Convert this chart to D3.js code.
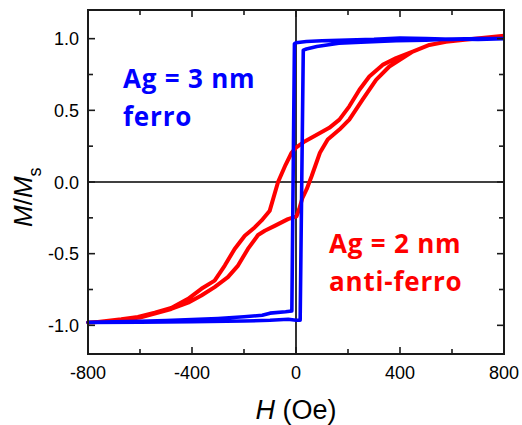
<!DOCTYPE html>
<html>
<head>
<meta charset="utf-8">
<script src="https://cdn.jsdelivr.net/npm/d3@7"></script>
<style>
  body { margin: 0; background: #fff; }
  svg { display: block; }
  .tick-label { font-family: "Liberation Sans", Arial, sans-serif; font-size: 18px; fill: #000; }
  .note { font-family: "Open Sans", sans-serif; font-weight: bold; font-size: 26px; letter-spacing: 0.8px; }
</style>
</head>
<body>
<svg id="chart" width="522" height="425"></svg>
<script>
  // Ag = 3 nm (ferro), descending then ascending branch
  const ferroDownH = [800, 700, 600, 500, 400, 300, 200, 100, 40, 0, -6, -16, -40, -100, -130, -200, -300, -400, -500, -600, -800];
  const ferroDownM = [1.0, 1.0, 0.995, 1.0, 1.005, 0.995, 0.99, 0.985, 0.98, 0.972, 0.965, -0.9, -0.905, -0.915, -0.93, -0.94, -0.952, -0.96, -0.967, -0.972, -0.978];
  const ferroUpH = [-800, -600, -400, -200, -100, -30, 0, 16, 28, 40, 80, 165, 250, 385, 500, 600, 700, 800];
  const ferroUpM = [-0.98, -0.978, -0.975, -0.97, -0.965, -0.958, -0.965, -0.965, 0.92, 0.928, 0.945, 0.968, 0.975, 0.986, 0.99, 0.998, 0.995, 1.0];

  // Ag = 2 nm (anti-ferro)
  const afDownH = [800, 667, 577, 513, 449, 385, 333, 282, 244, 205, 167, 128, 80, 35, 0, -17, -40, -69, -101, -133, -159, -197, -236, -274, -313, -364, -415, -480, -543, -608, -672, -762, -800];
  const afDownM = [1.02, 0.996, 0.979, 0.956, 0.91, 0.864, 0.817, 0.736, 0.644, 0.528, 0.435, 0.378, 0.33, 0.285, 0.24, 0.204, 0.12, 0.0, -0.2, -0.27, -0.317, -0.375, -0.467, -0.583, -0.688, -0.745, -0.815, -0.879, -0.912, -0.942, -0.958, -0.976, -0.98];
  const afUpH = [-800, -700, -600, -480, -415, -364, -313, -262, -223, -185, -146, -120, -82, -31, 2, 12, 25, 41, 60, 92, 122, 167, 205, 256, 308, 359, 410, 449, 513, 577, 667, 800];
  const afUpM = [-0.98, -0.97, -0.945, -0.886, -0.842, -0.792, -0.733, -0.664, -0.583, -0.467, -0.37, -0.34, -0.306, -0.259, -0.24, -0.19, -0.11, -0.05, 0.04, 0.204, 0.297, 0.366, 0.435, 0.574, 0.713, 0.806, 0.864, 0.91, 0.956, 0.979, 0.996, 1.02];

  const xTicks = [-800, -400, 0, 400, 800];
  const yTicks = [-1.0, -0.5, 0.0, 0.5, 1.0];

  const margin = {left: 88, top: 10, right: 18, bottom: 71};
  const width = 522 - margin.left - margin.right;
  const height = 425 - margin.top - margin.bottom;

  const svg = d3.select('#chart');
  const g = svg.append('g').attr('transform', `translate(${margin.left},${margin.top})`);

  const x = d3.scaleLinear().domain([-800, 800]).range([0, width]);
  const y = d3.scaleLinear().domain([-1.2, 1.2]).range([height, 0]);

  // zero lines
  g.append('line').attr('x1', 0).attr('x2', width).attr('y1', y(0)).attr('y2', y(0))
    .attr('stroke', '#000').attr('stroke-width', 1.6);
  g.append('line').attr('x1', x(0)).attr('x2', x(0)).attr('y1', 0).attr('y2', height)
    .attr('stroke', '#000').attr('stroke-width', 1.6);

  const line = d3.line().x(d => x(d[0])).y(d => y(d[1]));
  const zip = (a, b) => a.map((v, i) => [v, b[i]]);

  const loops = [
    {h: afDownH.concat(afUpH), m: afDownM.concat(afUpM), color: '#ff0000', w: 4},
    {h: ferroDownH.concat(ferroUpH), m: ferroDownM.concat(ferroUpM), color: '#0000ff', w: 3.6}
  ];
  loops.forEach(l => {
    g.append('path')
      .attr('d', line(zip(l.h, l.m)))
      .attr('fill', 'none')
      .attr('stroke', l.color)
      .attr('stroke-width', l.w)
      .attr('stroke-linejoin', 'round');
  });

  // axes: inward ticks, major and minor
  const majorX = d3.range(-800, 801, 400), minorX = d3.range(-600, 601, 400);
  const majorY = d3.range(-1, 1.01, 0.5), minorY = d3.range(-0.75, 0.76, 0.5);

  const ax = g.append('g').attr('stroke', '#1a1a1a').attr('stroke-width', 1.6);
  majorX.concat(minorX).forEach(v => {
    const len = majorX.includes(v) ? 7 : 5;
    ax.append('line').attr('x1', x(v)).attr('x2', x(v)).attr('y1', height).attr('y2', height - len);
    ax.append('line').attr('x1', x(v)).attr('x2', x(v)).attr('y1', 0).attr('y2', len);
  });
  majorY.concat(minorY).forEach(v => {
    const len = majorY.some(t => Math.abs(t - v) < 1e-6) ? 7 : 5;
    ax.append('line').attr('x1', 0).attr('x2', len).attr('y1', y(v)).attr('y2', y(v));
    ax.append('line').attr('x1', width).attr('x2', width - len).attr('y1', y(v)).attr('y2', y(v));
  });
  g.append('rect').attr('width', width).attr('height', height)
    .attr('fill', 'none').attr('stroke', '#1a1a1a').attr('stroke-width', 2);

  g.selectAll('.xl').data(xTicks).enter().append('text')
    .attr('class', 'tick-label')
    .attr('x', d => x(d)).attr('y', height + 25)
    .attr('text-anchor', 'middle')
    .text(d => d);
  g.selectAll('.yl').data(yTicks).enter().append('text')
    .attr('class', 'tick-label')
    .attr('x', -9).attr('y', d => y(d) + 6.5)
    .attr('text-anchor', 'end')
    .text(d => d.toFixed(1));

  // axis titles
  const xt = svg.append('text')
    .attr('x', margin.left + width / 2).attr('y', 419)
    .attr('text-anchor', 'middle')
    .attr('font-family', '"Liberation Sans", Arial, sans-serif').attr('font-size', 27);
  xt.append('tspan').attr('font-style', 'italic').text('H');
  xt.append('tspan').text(' (Oe)');

  const yt = svg.append('text')
    .attr('transform', 'translate(32,227) rotate(-90)')
    .attr('text-anchor', 'start')
    .attr('font-family', '"Liberation Sans", Arial, sans-serif').attr('font-size', 26);
  yt.append('tspan').attr('font-style', 'italic').text('M');
  yt.append('tspan').text('/');
  yt.append('tspan').attr('font-style', 'italic').text('M');
  yt.append('tspan').attr('font-size', 18).attr('dy', 9).text('s');

  // annotations
  const notes = [
    {lines: ['Ag = 3 nm', 'ferro'], x: 123, y: 88, color: '#0000ff'},
    {lines: ['Ag = 2 nm', 'anti-ferro'], x: 329, y: 253, color: '#ff0000'}
  ];
  notes.forEach(n => {
    n.lines.forEach((t, i) => {
      svg.append('text').attr('class', 'note')
        .attr('x', n.x).attr('y', n.y + i * 37.5)
        .attr('fill', n.color)
        .text(t);
    });
  });
</script>
</body>
</html>
